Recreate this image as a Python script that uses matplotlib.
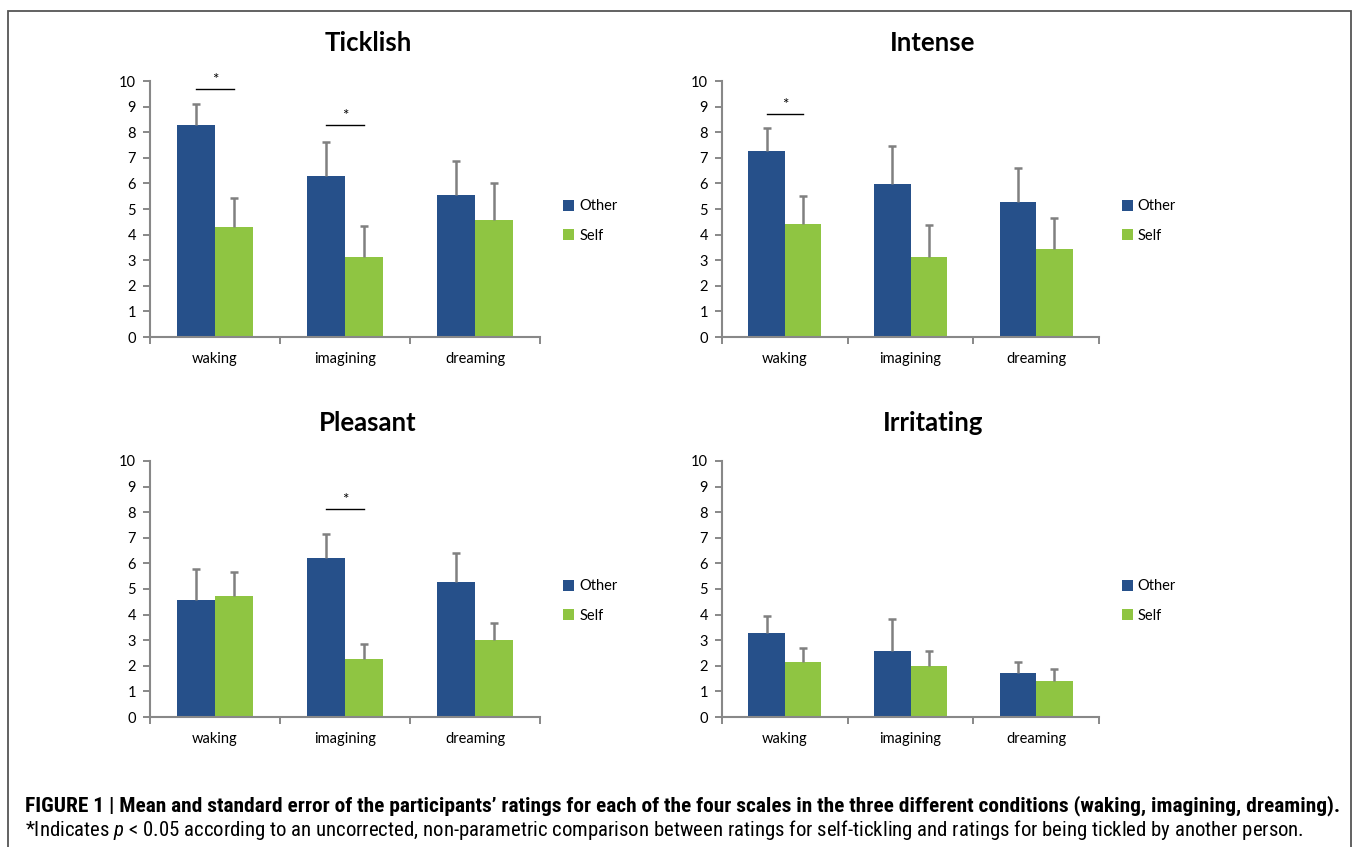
#!/usr/bin/env python3
"""Four panel bar chart: ratings for being tickled by other vs self, in three conditions."""
import numpy as np
import matplotlib as mpl
mpl.use('Agg')
import matplotlib.pyplot as plt
from matplotlib import font_manager
from matplotlib.patches import Patch, Rectangle


def first_font(names):
    """ Returns the first installed family of the list. """
    for name in names:
        try:
            font_manager.findfont(name, fallback_to_default=False)
            return name
        except Exception:
            pass
    return 'DejaVu Sans'


CHART_FONT = first_font(['Lato', 'Open Sans', 'DejaVu Sans'])
CAPTION_FONT = first_font(['Liberation Sans Narrow', 'Roboto Condensed', 'Liberation Sans'])

mpl.rcParams['font.family'] = CHART_FONT
mpl.rcParams['mathtext.fontset'] = 'custom'
mpl.rcParams['mathtext.rm'] = CAPTION_FONT
mpl.rcParams['mathtext.it'] = CAPTION_FONT + ':italic'

#------------- Data -------------#
conditions = ['waking', 'imagining', 'dreaming']
series = ['Other', 'Self']

titles = ['Ticklish', 'Intense', 'Pleasant', 'Irritating']

other_means = [
    [8.27, 6.27, 5.55],   # Ticklish
    [7.26, 5.98, 5.26],   # Intense
    [4.57, 6.20, 5.28],   # Pleasant
    [3.27, 2.57, 1.70],   # Irritating
]
other_err = [
    [0.85, 1.35, 1.31],
    [0.91, 1.47, 1.36],
    [1.21, 0.93, 1.13],
    [0.69, 1.26, 0.45],
]
self_means = [
    [4.29, 3.13, 4.56],
    [4.42, 3.13, 3.42],
    [4.71, 2.28, 3.00],
    [2.14, 1.99, 1.42],
]
self_err = [
    [1.14, 1.21, 1.46],
    [1.07, 1.25, 1.21],
    [0.95, 0.57, 0.68],
    [0.56, 0.60, 0.46],
]

# significance brackets: (panel, condition index, height)
sig_marks = [
    (0, 0, 9.69),
    (0, 1, 8.27),
    (1, 0, 8.72),
    (2, 1, 8.12),
]

caption_1 = ('FIGURE 1 | Mean and standard error of the participants\u2019 ratings for each of the '
             'four scales in the three different conditions (waking, imagining, dreaming).')
caption_2 = ('*Indicates $p$ < 0.05 according to an uncorrected, non-parametric comparison between '
             'ratings for self-tickling and ratings for being tickled by another person.')

#------------- Style -------------#
OTHER_COLOR = '#26508a'
SELF_COLOR = '#8fc542'
ERR_COLOR = '#808080'
AXIS_COLOR = '#888888'
BAR_W = 0.29

W, H = 1355, 847
fig = plt.figure(figsize=(W / 100, H / 100), dpi=100)


def fx(px):
    return px / W


def fy(py):
    return 1 - py / H


# axes boxes in pixels: (left, right, y of 0, y of 10)
boxes = [
    (150, 540, 337, 81),
    (722, 1099, 337, 81),
    (150, 540, 717, 461),
    (722, 1099, 717, 461),
]
title_pos = [(368, 43), (933, 43), (368, 423), (933, 423)]

axes = []
for k, (l, r, b, t) in enumerate(boxes):
    ax = fig.add_axes([fx(l), fy(b), fx(r) - fx(l), fy(t) - fy(b)])
    axes.append(ax)
    x = np.arange(len(conditions)) + 0.5

    ax.bar(x - BAR_W / 2, other_means[k], BAR_W, color=OTHER_COLOR, zorder=2)
    ax.bar(x + BAR_W / 2, self_means[k], BAR_W, color=SELF_COLOR, zorder=2)

    for xs, m, e in [(x - BAR_W / 2, other_means[k], other_err[k]),
                     (x + BAR_W / 2, self_means[k], self_err[k])]:
        _, caps, _ = ax.errorbar(xs, m, yerr=[np.zeros(len(m)), e], fmt='none',
                                 ecolor=ERR_COLOR, elinewidth=1.8, capsize=2.6,
                                 capthick=1.8, zorder=3)
        caps[0].set_visible(False)

    ax.set_xlim(0, 3)
    ax.set_ylim(0, 10)
    ax.set_yticks(range(0, 11))
    ax.set_xticks([0, 1, 2, 3])
    ax.set_xticklabels([])
    ax.set_xticks(x, minor=True)
    ax.set_xticklabels(conditions, minor=True)
    ax.tick_params(axis='x', which='minor', length=0, pad=11, labelsize=10.5)
    ax.tick_params(axis='x', which='major', length=5, width=1.4, color=AXIS_COLOR)
    ax.tick_params(axis='y', length=5, width=1.4, color=AXIS_COLOR, pad=5, labelsize=10.5)

    for side in ['top', 'right']:
        ax.spines[side].set_visible(False)
    for side in ['left', 'bottom']:
        ax.spines[side].set_color(AXIS_COLOR)
        ax.spines[side].set_linewidth(1.5)
    ax.patch.set_alpha(0)

    handles = [Patch(facecolor=OTHER_COLOR), Patch(facecolor=SELF_COLOR)]
    ax.legend(handles, series, loc='center left', bbox_to_anchor=(1.045, 0.453),
              frameon=False, fontsize=10.5, handlelength=0.75, handleheight=0.75,
              handletextpad=0.35, labelspacing=1.05, borderaxespad=0)

    tx, ty = title_pos[k]
    fig.text(fx(tx), fy(ty), titles[k], ha='center', va='center',
             fontsize=18.5, fontweight='bold')

# significance brackets
for k, c, h in sig_marks:
    ax = axes[k]
    x0 = c + 0.5 - BAR_W / 2
    x1 = c + 0.5 + BAR_W / 2
    ax.plot([x0, x1], [h, h], color='black', lw=1.0, zorder=4)
    ax.text(c + 0.5, h + 0.08, '*', ha='center', va='bottom', fontsize=11)

# frame round the figure
fig.patches.append(Rectangle((fx(8), -0.02), fx(1351) - fx(8), fy(11) + 0.02,
                             transform=fig.transFigure, fill=False,
                             edgecolor='#555555', lw=1.3))

# caption, fitted to the width of the reference lines
renderer = fig.canvas.get_renderer()
for text, py, right, weight in [(caption_1, 806, 1337, 'bold'), (caption_2, 830, 1307, 'normal')]:
    t = fig.text(fx(25), fy(py), text, ha='left', va='center', fontsize=10,
                 family=CAPTION_FONT, fontweight=weight)
    w = t.get_window_extent(renderer).width
    t.set_fontsize(10 * (right - 25) / w)

fig.savefig('out.png', dpi=100)
